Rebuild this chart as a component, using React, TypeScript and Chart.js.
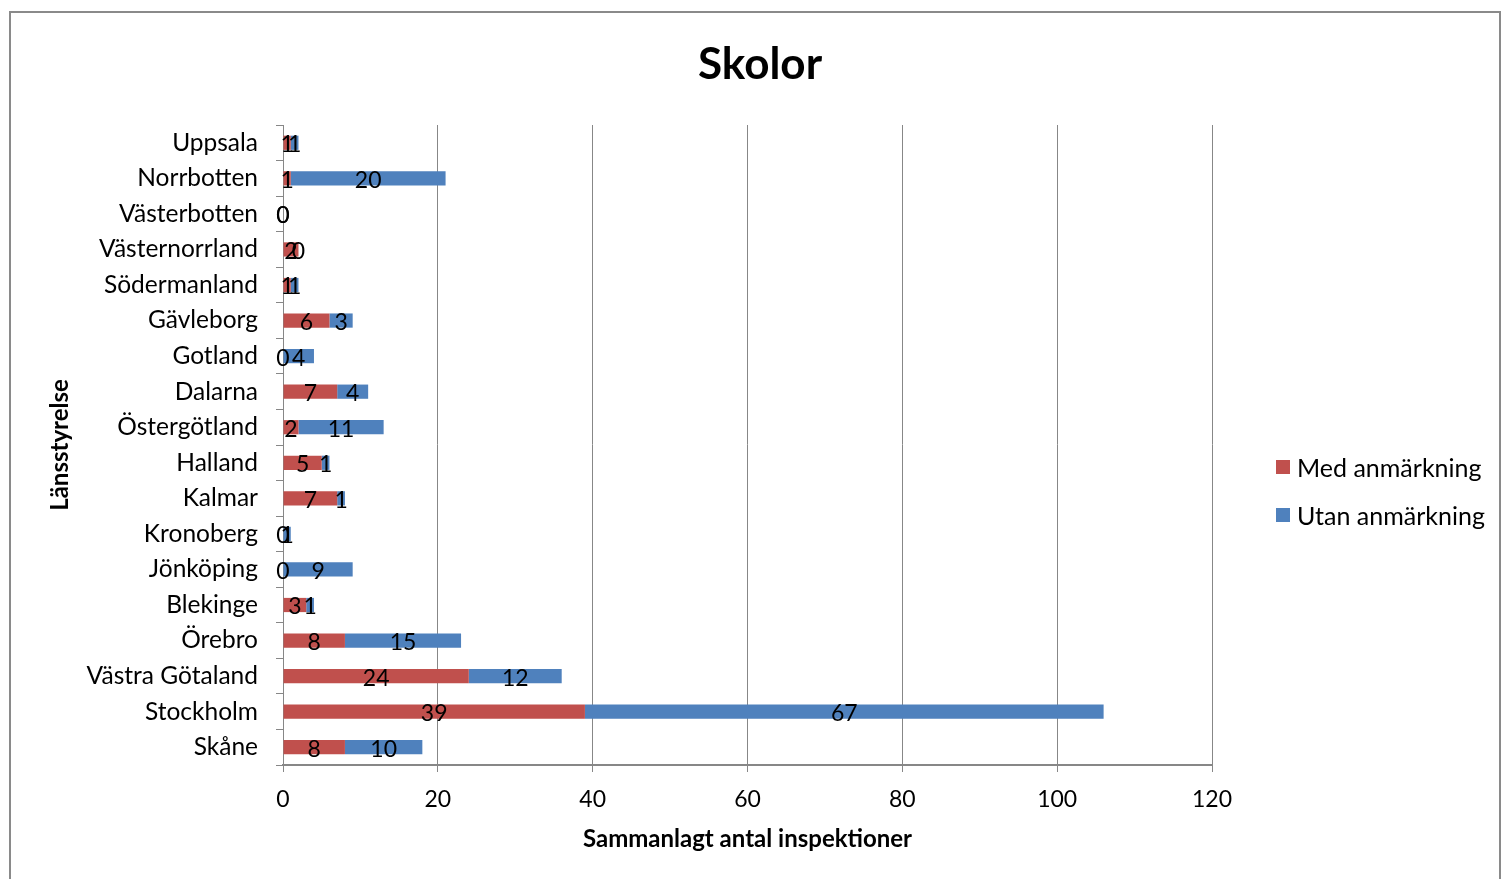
import React, { useEffect, useRef } from "react";
import { Chart, registerables } from "chart.js";

Chart.register(...registerables);

const categories = [
  "Uppsala",
  "Norrbotten",
  "Västerbotten",
  "Västernorrland",
  "Södermanland",
  "Gävleborg",
  "Gotland",
  "Dalarna",
  "Östergötland",
  "Halland",
  "Kalmar",
  "Kronoberg",
  "Jönköping",
  "Blekinge",
  "Örebro",
  "Västra Götaland",
  "Stockholm",
  "Skåne",
];
const medAnmarkning = [1, 1, 0, 2, 1, 6, 0, 7, 2, 5, 7, 0, 0, 3, 8, 24, 39, 8];
const utanAnmarkning = [1, 20, 0, 0, 1, 3, 4, 4, 11, 1, 1, 1, 9, 1, 15, 12, 67, 10];
const xMin = 0;
const xMax = 120;
const xStep = 20;

const seriesNames = ["Med anmärkning", "Utan anmärkning"];
const seriesColors = ["#C0504D", "#4F81BD"];

const FONT = "Lato, 'Open Sans', 'Noto Sans', sans-serif";
const GRID = "#878787";

const dataLabels = {
  id: "dataLabels",
  afterDatasetsDraw(chart: any) {
    const ctx = chart.ctx;
    ctx.save();
    ctx.font = `23px ${FONT}`;
    ctx.fillStyle = "#000";
    ctx.textAlign = "center";
    ctx.textBaseline = "middle";
    chart.data.datasets.forEach((ds: any, di: number) => {
      const meta = chart.getDatasetMeta(di);
      meta.data.forEach((el: any, i: number) => {
        const v = ds.data[i];
        const cx = (el.x + el.base) / 2;
        ctx.fillText(String(v), cx, el.y + 2);
      });
    });
    ctx.restore();
  },
};

export default function App() {
  const ref = useRef<HTMLCanvasElement | null>(null);

  useEffect(() => {
    if (!ref.current) return;
    const chart = new Chart(ref.current, {
      type: "bar",
      data: {
        labels: categories,
        datasets: [
          {
            label: seriesNames[0],
            data: medAnmarkning,
            backgroundColor: seriesColors[0],
            barPercentage: 0.5,
            categoryPercentage: 0.8,
          },
          {
            label: seriesNames[1],
            data: utanAnmarkning,
            backgroundColor: seriesColors[1],
            barPercentage: 0.5,
            categoryPercentage: 0.8,
          },
        ],
      },
      options: {
        indexAxis: "y",
        animation: false,
        responsive: true,
        maintainAspectRatio: false,
        layout: { padding: { top: 125, right: 292, left: 0, bottom: 0 } },
        plugins: {
          legend: { display: false },
          title: { display: false },
          tooltip: { enabled: false },
        },
        scales: {
          x: {
            stacked: true,
            min: xMin,
            max: xMax,
            ticks: {
              stepSize: xStep,
              color: "#000",
              font: { family: FONT, size: 23 },
              padding: 14,
            },
            grid: { color: GRID, lineWidth: 1, tickLength: 7, drawTicks: true },
            border: { color: GRID, width: 2 },
            title: {
              display: true,
              text: "Sammanlagt antal inspektioner",
              color: "#000",
              font: { family: FONT, size: 24, weight: "bold" },
              padding: { top: 0, bottom: 25 },
            },
            afterFit: (s: any) => {
              s.height = 114;
            },
          },
          y: {
            stacked: true,
            ticks: {
              color: "#000",
              font: { family: FONT, size: 24.5 },
              padding: 18,
            },
            grid: {
              drawOnChartArea: false,
              drawTicks: true,
              tickLength: 7,
              color: GRID,
              offset: true,
            },
            border: { color: GRID, width: 1 },
            title: {
              display: true,
              text: "Länsstyrelse",
              color: "#000",
              font: { family: FONT, size: 24, weight: "bold" },
              padding: { top: 46, bottom: 0 },
            },
            afterFit: (s: any) => {
              s.width = 283;
            },
          },
        },
      },
      plugins: [dataLabels],
    } as any);
    return () => chart.destroy();
  }, []);

  return (
    <div
      style={{
        position: "fixed",
        left: 0,
        top: 0,
        width: 1504,
        height: 879,
        background: "#fff",
        fontFamily: FONT,
      }}
    >
      <div
        style={{
          position: "absolute",
          left: 9,
          top: 11,
          width: 1492,
          height: 900,
          border: "2px solid #8a8a8a",
          boxSizing: "border-box",
        }}
      />
      <div style={{ position: "absolute", left: 0, top: 0, width: 1504, height: 879 }}>
        <canvas ref={ref} />
      </div>
      <div
        style={{
          position: "absolute",
          left: 560,
          width: 400,
          top: 36,
          textAlign: "center",
          fontSize: 44,
          fontWeight: "bold",
          lineHeight: "52px",
          color: "#000",
        }}
      >
        Skolor
      </div>
      {seriesNames.map((n, i) => (
        <div
          key={n}
          style={{
            position: "absolute",
            left: 1276,
            top: 452 + i * 48,
            height: 30,
            display: "flex",
            alignItems: "center",
            fontSize: 25,
            color: "#000",
            whiteSpace: "nowrap",
          }}
        >
          <span
            style={{
              display: "inline-block",
              width: 14,
              height: 14,
              background: seriesColors[i],
              marginRight: 7,
            }}
          />
          {n}
        </div>
      ))}
    </div>
  );
}
